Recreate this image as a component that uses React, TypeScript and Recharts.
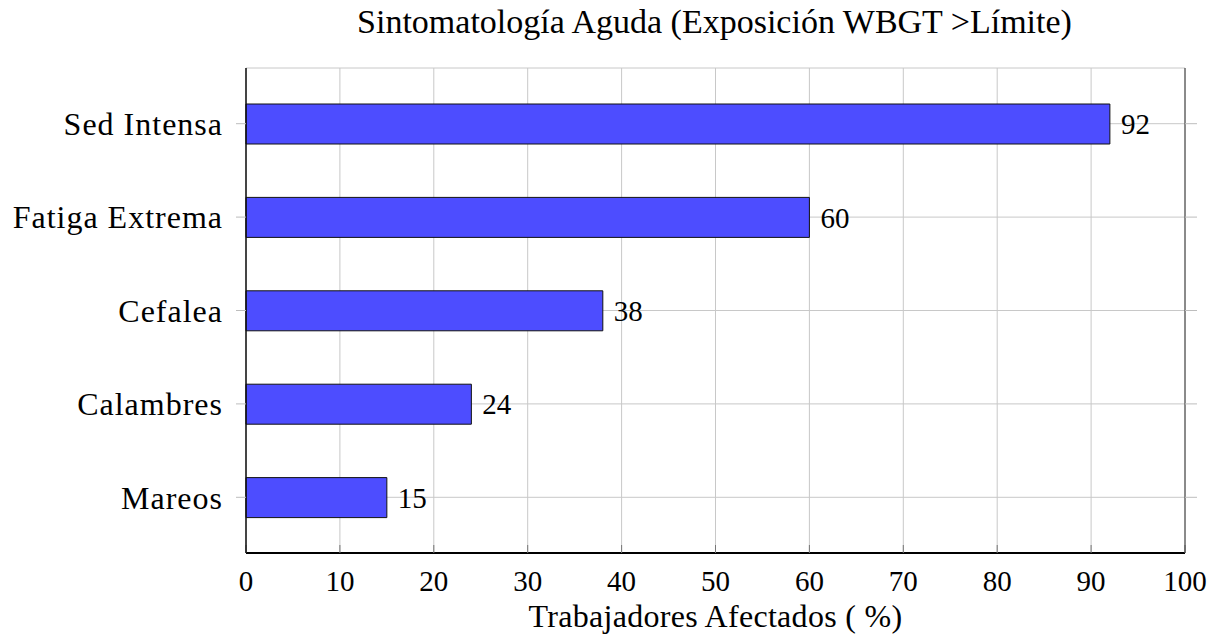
import React from "react";
import {
  BarChart,
  Bar,
  XAxis,
  YAxis,
  CartesianGrid,
  LabelList,
} from "recharts";

const categories = ["Sed Intensa", "Fatiga Extrema", "Cefalea", "Calambres", "Mareos"];
const affected = [92, 60, 38, 24, 15];
const xTicks = [0, 10, 20, 30, 40, 50, 60, 70, 80, 90, 100];

const data = categories.map((name, i) => ({ name, value: affected[i] }));

const FONT = "'Liberation Serif', 'DejaVu Serif', serif";

export default function App() {
  return (
    <div style={{ position: "absolute", left: 0, top: 0, width: 1222, height: 637, background: "#fff", fontFamily: FONT }}>
      <svg width={1222} height={60} style={{ position: "absolute", left: 0, top: 0 }}>
        <text x={714.5} y={33} textAnchor="middle" fontSize={34} fill="#000" fontFamily={FONT}>
          Sintomatología Aguda (Exposición WBGT &gt;Límite)
        </text>
      </svg>
      <BarChart
        width={1222}
        height={637}
        data={data}
        layout="vertical"
        margin={{ top: 68, right: 0, bottom: 0, left: 0 }}
        style={{ fontFamily: FONT }}
      >
        <CartesianGrid stroke="#c8c8c8" strokeWidth={1} />
        <XAxis
          type="number"
          domain={[0, 100]}
          ticks={xTicks}
          height={84}
          tickSize={-8}
          tickMargin={25}
          axisLine={{ stroke: "#000", strokeWidth: 2 }}
          tickLine={{ stroke: "#777" }}
          tick={{ fontSize: 29, fill: "#000" }}
          label={{
            value: "Trabajadores Afectados ( %)",
            position: "insideBottom",
            offset: 10,
            fontSize: 32,
            fill: "#000",
            style: { letterSpacing: 0.3 },
          }}
        />
        <XAxis
          xAxisId="top"
          orientation="top"
          type="number"
          domain={[0, 100]}
          height={0}
          tick={false}
          tickLine={false}
          axisLine={{ stroke: "#333" }}
        />
        <YAxis
          type="category"
          dataKey="name"
          width={246}
          tickSize={10}
          tickMargin={13}
          padding={{ top: 9, bottom: 9 }}
          axisLine={{ stroke: "#111", strokeWidth: 1.5 }}
          tickLine={{ stroke: "#bdbdbd" }}
          tick={{ fontSize: 32, fill: "#000", style: { letterSpacing: 1 } }}
        />
        <YAxis
          yAxisId="r"
          orientation="right"
          type="category"
          dataKey="name"
          width={37}
          tickSize={12}
          padding={{ top: 9, bottom: 9 }}
          axisLine={{ stroke: "#333" }}
          tickLine={{ stroke: "#bdbdbd" }}
          tick={() => <g />}
        />
        <Bar dataKey="value" barSize={40} fill="#4d4dff" stroke="#111" strokeWidth={1} isAnimationActive={false}>
          <LabelList dataKey="value" position="right" offset={11} fontSize={29} fill="#000" />
        </Bar>
      </BarChart>
    </div>
  );
}
